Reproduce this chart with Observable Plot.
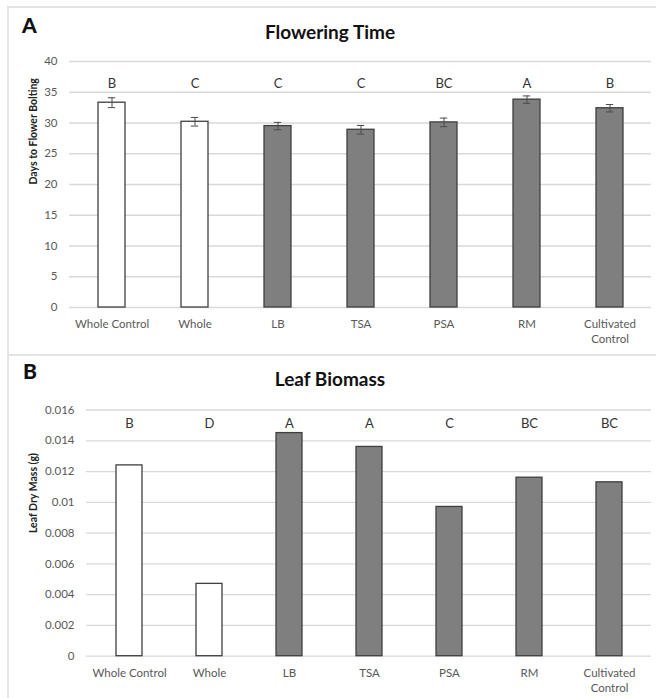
<!DOCTYPE html>
<html>
<head>
<meta charset="utf-8">
<script src="https://cdn.jsdelivr.net/npm/d3@7"></script>
<script src="https://cdn.jsdelivr.net/npm/@observablehq/plot@0.6"></script>
<style>
  html, body { margin: 0; padding: 0; background: #fff; }
  #wrap { position: relative; width: 656px; height: 698px; overflow: hidden; font-family: Lato, "Open Sans", sans-serif; }
  .hline { position: absolute; height: 2px; background: #e3e3e3; }
  .vline { position: absolute; width: 2px; background: #e3e3e3; }
  .plabel { position: absolute; font-weight: 900; font-size: 21px; color: #111; }
  .ptitle { position: absolute; left: 0; width: 660px; text-align: center; font-weight: 700; font-size: 19px; color: #111; }
  .chart { position: absolute; left: 0; }
</style>
</head>
<body>
<div id="wrap">
  <div class="vline" style="left:7px; top:6px; height:692px;"></div>
  <div class="hline" style="left:7px; top:6px; width:649px;"></div>
  <div class="hline" style="left:7px; top:354px; width:649px;"></div>
  <div class="plabel" style="left:22px; top:12px;">A</div>
  <div class="ptitle" style="top:20px;">Flowering Time</div>
  <div class="plabel" style="left:23px; top:358px;">B</div>
  <div class="ptitle" style="top:367px;">Leaf Biomass</div>
  <div class="chart" id="chartA" style="top:50px;"></div>
  <div class="chart" id="chartB" style="top:390px;"></div>
</div>
<script>
// ---- data ----
const categories = ["Whole Control", "Whole", "LB", "TSA", "PSA", "RM", "Cultivated Control"];
const categoryLabels = ["Whole Control", "Whole", "LB", "TSA", "PSA", "RM", "Cultivated\nControl"];
const groups = ["whole", "whole", "fraction", "fraction", "fraction", "fraction", "fraction"];

const floweringDays = [33.3, 30.2, 29.5, 28.9, 30.1, 33.8, 32.4];
const floweringErr = [0.8, 0.7, 0.6, 0.7, 0.7, 0.6, 0.6];
const floweringLetters = ["B", "C", "C", "C", "BC", "A", "B"];
const floweringTicks = [0, 5, 10, 15, 20, 25, 30, 35, 40];

const leafMass = [0.0124, 0.0047, 0.0145, 0.0136, 0.0097, 0.0116, 0.0113];
const leafLetters = ["B", "D", "A", "A", "C", "BC", "BC"];
const leafTicks = [0, 0.002, 0.004, 0.006, 0.008, 0.01, 0.012, 0.014, 0.016];

// ---- tables ----
const tableA = categories.map((c, i) => ({cat: c, group: groups[i], v: floweringDays[i], e: floweringErr[i], letter: floweringLetters[i]}));
const tableB = categories.map((c, i) => ({cat: c, group: groups[i], v: leafMass[i], letter: leafLetters[i]}));
const labelOf = new Map(categories.map((c, i) => [c, categoryLabels[i]]));

const gridColor = "#d9d9d9";
const barStroke = "#3f3f3f";
const colorScale = {type: "ordinal", domain: ["whole", "fraction"], range: ["#ffffff", "#7f7f7f"]};
const paddingInner = 0.68;

function makeChart({data, height, marginTop, marginBottom, marginLeft, yDomain, ticks, tickFormat, yLabel, letterY, withErr}) {
  const step = (656 - 5 - marginLeft) / (categories.length - paddingInner + 2 * 0.34);
  const bandwidth = step * (1 - paddingInner);
  const capInset = Math.max(0, (bandwidth - 7) / 2);
  const marks = [
    Plot.ruleY(ticks, {stroke: gridColor, strokeWidth: 1.3}),
    Plot.barY(data, {x: "cat", y: "v", fill: "group", stroke: barStroke, strokeWidth: 1.3}),
  ];
  if (withErr) {
    marks.push(
      Plot.ruleX(data, {x: "cat", y1: d => d.v - d.e, y2: d => d.v + d.e, stroke: "#4a4a4a", strokeWidth: 1}),
      Plot.tickY(data, {x: "cat", y: d => d.v - d.e, stroke: "#4a4a4a", strokeWidth: 1, insetLeft: capInset, insetRight: capInset}),
      Plot.tickY(data, {x: "cat", y: d => d.v + d.e, stroke: "#4a4a4a", strokeWidth: 1, insetLeft: capInset, insetRight: capInset})
    );
  }
  marks.push(
    Plot.text(data, {x: "cat", y: () => letterY, text: "letter", fill: "#333", fontSize: 13}),
    Plot.axisY(ticks, {tickSize: 0, tickPadding: 12, tickFormat, fontSize: 11.5, fill: "#595959", label: null}),
    Plot.axisX({tickSize: 0, tickPadding: 10, tickFormat: d => labelOf.get(d), fontSize: 11.5, fill: "#595959", lineHeight: 1.3, label: null}),
    Plot.text([yLabel], {frameAnchor: "left", dx: 33 - marginLeft, rotate: -90, fontWeight: "bold", fontSize: 10.5, fill: "#222"})
  );
  return Plot.plot({
    width: 656,
    height,
    marginTop,
    marginBottom,
    marginLeft,
    marginRight: 5,
    style: {fontFamily: "Lato, 'Open Sans', sans-serif", background: "transparent", overflow: "visible"},
    x: {domain: categories, paddingInner, paddingOuter: 0.34, align: 0.5, axis: null},
    y: {domain: yDomain, axis: null},
    color: colorScale,
    marks
  });
}

document.getElementById("chartA").appendChild(makeChart({
  data: tableA, height: 305, marginTop: 11, marginBottom: 48, marginLeft: 69,
  yDomain: [0, 40], ticks: floweringTicks, tickFormat: d => String(d),
  yLabel: "Days to Flower Bolting", letterY: 36.3, withErr: true
}));

document.getElementById("chartB").appendChild(makeChart({
  data: tableB, height: 308, marginTop: 19.5, marginBottom: 42.3, marginLeft: 86,
  yDomain: [0, 0.016], ticks: leafTicks, tickFormat: d => d === 0 ? "0" : String(+d.toFixed(3)),
  yLabel: "Leaf Dry Mass (g)", letterY: 0.0151, withErr: false
}));
</script>
</body>
</html>
